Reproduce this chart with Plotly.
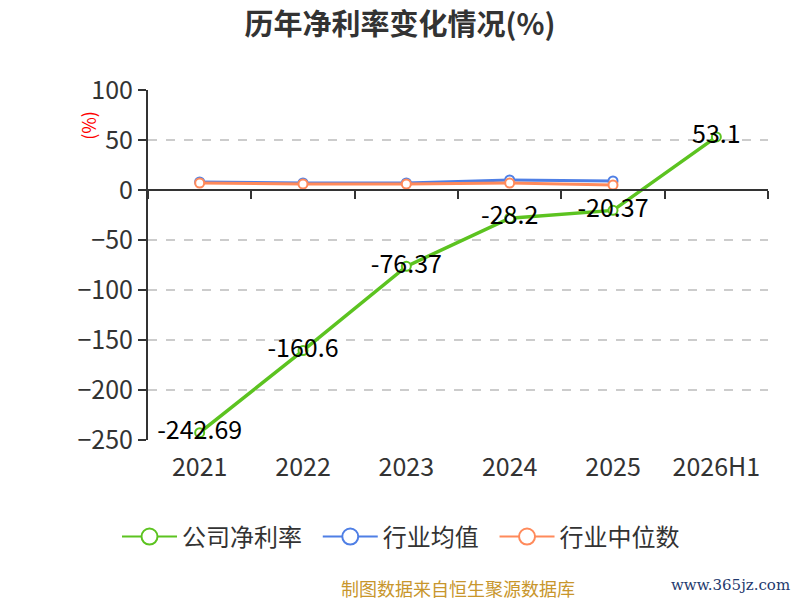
import plotly.graph_objects as go

years = ['2021', '2022', '2023', '2024', '2025', '2026H1']
company = [-242.69, -160.6, -76.37, -28.2, -20.37, 53.1]
industry_avg = [8, 7, 7, 10, 9]
industry_mid = [7, 6, 6, 7, 5]

green = '#5cc320'
blue = '#4f7fe5'
orange = '#ff8a5b'
font = 'Noto Sans CJK SC'

fig = go.Figure()

fig.add_trace(go.Scatter(x=years[:5], y=industry_avg, mode='lines+markers', name='行业均值',
                         line=dict(color=blue, width=3),
                         marker=dict(size=9, color='white', line=dict(color=blue, width=2)),
                         showlegend=False))
fig.add_trace(go.Scatter(x=years[:5], y=industry_mid, mode='lines+markers', name='行业中位数',
                         line=dict(color=orange, width=3),
                         marker=dict(size=9, color='white', line=dict(color=orange, width=2)),
                         showlegend=False))
fig.add_trace(go.Scatter(x=years, y=company, mode='lines+markers+text', name='公司净利率',
                         line=dict(color=green, width=3.5),
                         marker=dict(size=9, color='white', line=dict(color=green, width=2)),
                         text=[str(v) for v in company], textposition='middle center',
                         textfont=dict(size=25, color='black', family=font),
                         showlegend=False))

# legend entries with bigger symbols (nbsp padding widens the gap between items)
for name, c in [('公司净利率', green), ('行业均值', blue), ('行业中位数', orange)]:
    fig.add_trace(go.Scatter(x=[None], y=[None], mode='lines+markers', name=name + '\u00a0\u00a0',
                             line=dict(color=c, width=2),
                             marker=dict(size=20, color='white', line=dict(color=c, width=2))))

# page body keeps an 8px margin, so the figure is 8px smaller than the window
fig.update_layout(
    width=792, height=592,
    paper_bgcolor='white', plot_bgcolor='white',
    margin=dict(l=140, r=32, t=82, b=160, autoexpand=False),
    font=dict(family=font, color='#333333'),
    title=dict(text='<b>历年净利率变化情况(%)</b>', x=(400 - 8) / 792, xanchor='center',
               y=1 - 17 / 592, yanchor='middle',
               font=dict(size=29, color='#333333', family=font)),
    legend=dict(orientation='h', x=(117 - 148) / 620, xanchor='left', y=-0.277, yanchor='middle',
                font=dict(size=24, color='#333333', family=font), itemwidth=55),
    annotations=[
        dict(text='(%)', x=-0.097, y=0.9, xref='paper', yref='paper', showarrow=False,
             xanchor='center', yanchor='middle',
             textangle=-90, font=dict(size=18, color='red', family=font)),
        dict(text='制图数据来自恒生聚源数据库', x=0.5, y=-0.423, xref='paper', yref='paper',
             yanchor='middle', showarrow=False, font=dict(size=18, color='#c8962c', family=font)),
        dict(text='www.365jz.com', x=1.039, y=-0.414, xref='paper', yref='paper', xanchor='right',
             yanchor='middle', showarrow=False, font=dict(size=15, color='#1f3a6e', family='DejaVu Serif')),
    ],
)

fig.update_xaxes(type='category', range=[-0.5, 5.5], anchor='free', position=250 / 350,
                 automargin=False,
                 showline=True, linecolor='#333333', linewidth=2,
                 ticks='outside', ticklen=8, tickwidth=2, tickcolor='#333333',
                 tickson='boundaries', showgrid=False,
                 tickfont=dict(size=25, color='#333333'), ticklabelstandoff=255)
fig.update_yaxes(range=[-250, 100], dtick=50, showline=True, linecolor='#333333', linewidth=2,
                 automargin=False,
                 ticks='outside', ticklen=8, tickwidth=2, tickcolor='#333333',
                 showgrid=True, gridcolor='#cccccc', griddash='dash', gridwidth=1.5,
                 zeroline=False, tickfont=dict(size=25, color='#333333'))

fig.write_html('out.html')
